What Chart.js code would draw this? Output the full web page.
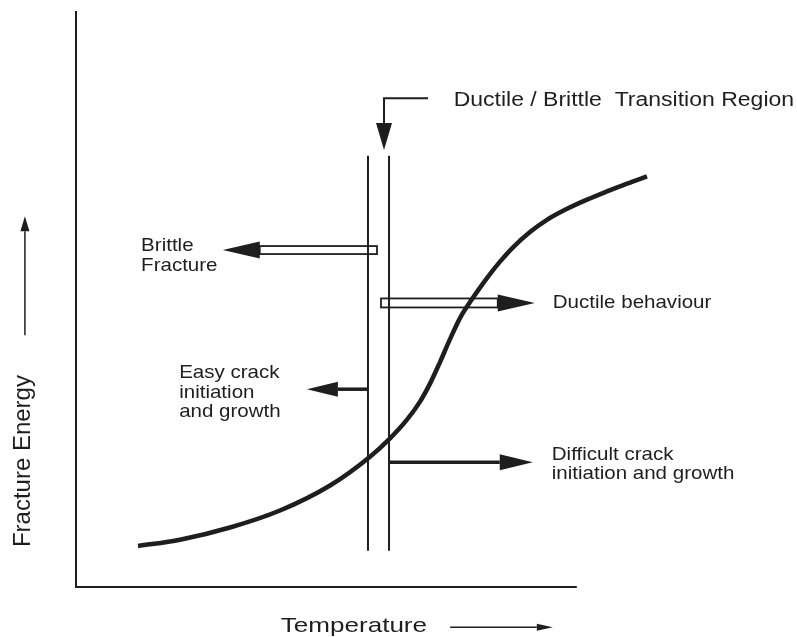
<!DOCTYPE html>
<html>
<head>
<meta charset="utf-8">
<script src="https://cdn.jsdelivr.net/npm/chart.js@4.4.1/dist/chart.umd.min.js"></script>
<style>
  html, body { margin: 0; padding: 0; background: #fff; }
  #wrap { width: 797px; height: 637px; }
</style>
</head>
<body>
<div id="wrap"><canvas id="chart" width="797" height="637"></canvas></div>
<script>
// Schematic units: 0..100 along each drawn axis (the curve runs past the temperature axis end)
const temperature = [12.38, 20.77, 30.75, 40.73, 50.72, 58.70, 62.70, 66.09, 68.69, 70.68, 72.68, 74.68, 76.67,
  78.67, 80.67, 82.66, 84.66, 87.26, 90.65, 94.04, 98.04, 102.03, 106.02, 110.02, 114.01];
const fractureEnergy = [7.13, 8.23, 10.35, 13.30, 17.65, 22.66, 25.86, 29.11, 32.24, 35.37, 39.11, 43.11, 46.77,
  49.55, 52.07, 54.42, 56.59, 59.08, 61.74, 63.86, 65.77, 67.37, 68.80, 70.16, 71.41];

// ductile / brittle transition region (two boundary temperatures, energy span)
const regionTemps = [58.3, 62.5];
const regionSpan = [6.3, 75.0];

// temperature axis runs 0..100
const axisRange = [0, 100];
const axisTitles = ["Temperature", "Fracture Energy"];

const INK = "#1e1e1e";
const FONT = '"Liberation Sans", Arial, Helvetica, sans-serif';

// labels anchored in chart units (x, baseline y)
const notes = [
  { lines: ["Ductile / Brittle  Transition Region"], x: 75.4, y: 83.6, size: 20, sx: 1.15 },
  { lines: ["Brittle", "Fracture"], x: 13.0, y: 58.4, size: 19, sx: 1.08 },
  { lines: ["Ductile behaviour"], x: 95.2, y: 48.5, size: 19, sx: 1.08 },
  { lines: ["Easy crack", "initiation", "and growth"], x: 20.6, y: 36.3, size: 19, sx: 1.08 },
  { lines: ["Difficult crack", "initiation and growth"], x: 95.0, y: 22.1, size: 19, sx: 1.08 },
  { lines: [axisTitles[0]], x: 40.9, y: -7.8, size: 21, sx: 1.24 },
];

// arrows: path in chart units, last point is the tip
const arrows = [
  { path: [[70.3, 85.0], [61.5, 85.0], [61.5, 76.0]], kind: "solid", w: 2, head: [27, 8] },
  { path: [[60.1, 58.6], [29.3, 58.6]], kind: "hollow", w: 8, head: [37, 8.5] },
  { path: [[60.9, 49.4], [91.6, 49.4]], kind: "hollow", w: 9, head: [37, 8.5] },
  { path: [[58.3, 34.4], [46.1, 34.4]], kind: "solid", w: 3.5, head: [31, 7.5] },
  { path: [[62.5, 21.7], [91.2, 21.7]], kind: "solid", w: 3.5, head: [33, 8] },
  { path: [[74.7, -7.0], [95.2, -7.0]], kind: "solid", w: 1.5, head: [16, 3.5] },
  { path: [[-10.2, 43.8], [-10.2, 64.5]], kind: "solid", w: 1.5, head: [15, 4.5] },
];

function drawArrow(ctx, pts, a) {
  const n = pts.length;
  const [tx, ty] = pts[n - 1];
  const [px, py] = pts[n - 2];
  const len = Math.hypot(tx - px, ty - py);
  const ux = (tx - px) / len, uy = (ty - py) / len;
  const [hl, hw] = a.head;
  const bx = tx - ux * hl, by = ty - uy * hl; // head base
  ctx.save();
  ctx.strokeStyle = INK;
  ctx.fillStyle = INK;
  if (a.kind === "hollow") {
    const x0 = Math.min(px, bx), x1 = Math.max(px, bx);
    ctx.fillStyle = "#fff";
    ctx.lineWidth = 1.8;
    ctx.fillRect(x0, py - a.w / 2, x1 - x0, a.w);
    ctx.strokeRect(x0, py - a.w / 2, x1 - x0, a.w);
    ctx.fillStyle = INK;
  } else {
    ctx.lineWidth = a.w;
    ctx.beginPath();
    ctx.moveTo(pts[0][0], pts[0][1]);
    for (let i = 1; i < n - 1; i++) ctx.lineTo(pts[i][0], pts[i][1]);
    ctx.lineTo(bx, by);
    ctx.stroke();
  }
  ctx.beginPath();
  ctx.moveTo(tx, ty);
  ctx.lineTo(bx - uy * hw, by + ux * hw);
  ctx.lineTo(bx + uy * hw, by - ux * hw);
  ctx.closePath();
  ctx.fill();
  ctx.restore();
}

const schematic = {
  id: "schematic",
  beforeDatasetsDraw(chart) {
    const { ctx, scales: { x, y } } = chart;
    arrows.forEach((a) => {
      const pts = a.path.map(([u, v]) => [x.getPixelForValue(u), y.getPixelForValue(v)]);
      drawArrow(ctx, pts, a);
    });
  },
  afterDraw(chart) {
    const { ctx, scales: { x, y } } = chart;
    ctx.save();
    ctx.fillStyle = INK;
    ctx.textBaseline = "alphabetic";
    notes.forEach((nt) => {
      ctx.save();
      ctx.translate(x.getPixelForValue(nt.x), y.getPixelForValue(nt.y));
      ctx.scale(nt.sx, 1);
      ctx.font = `${nt.size}px ${FONT}`;
      nt.lines.forEach((t, i) => ctx.fillText(t, 0, i * 19.3));
      ctx.restore();
    });
    // y axis title, rotated
    ctx.save();
    ctx.translate(x.getPixelForValue(-9.2), y.getPixelForValue(21.9));
    ctx.rotate(-Math.PI / 2);
    ctx.textAlign = "center";
    ctx.font = `24px ${FONT}`;
    ctx.fillText(axisTitles[1], 0, 0);
    ctx.restore();
    ctx.restore();
  },
};

const line = (data, width) => ({
  data,
  borderColor: INK,
  borderWidth: width,
  pointRadius: 0,
  clip: false,
});

const curve = temperature.map((t, i) => ({ x: t, y: fractureEnergy[i] }));

new Chart(document.getElementById("chart"), {
  type: "line",
  data: {
    datasets: [
      { ...line(curve, 4.5), cubicInterpolationMode: "monotone" },
      ...regionTemps.map((t) => line(regionSpan.map((e) => ({ x: t, y: e })), 2)),
      line(axisRange.map((t) => ({ x: t, y: 0 })), 2),
    ],
  },
  options: {
    responsive: false,
    animation: false,
    events: [],
    layout: { padding: { left: 76, right: 120, top: 12, bottom: 50 }, autoPadding: false },
    scales: {
      x: {
        type: "linear", min: 0, max: 120,
        ticks: { display: false },
        grid: { display: false, drawTicks: false },
        border: { display: false },
      },
      y: {
        type: "linear", min: 0, max: 100,
        ticks: { display: false },
        grid: { display: false, drawTicks: false },
        border: { display: true, color: INK, width: 2 },
      },
    },
    plugins: { legend: { display: false }, tooltip: { enabled: false } },
  },
  plugins: [schematic],
});
</script>
</body>
</html>
